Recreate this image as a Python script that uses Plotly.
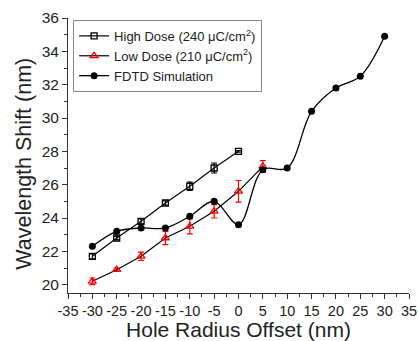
import plotly.graph_objects as go

x_dose = [-30, -25, -20, -15, -10, -5, 0]
high_dose = [21.7, 22.8, 23.8, 24.9, 25.9, 27.0, 28.0]
high_err = [0.15, 0.1, 0.15, 0.12, 0.25, 0.3, 0.05]

x_low = [-30, -25, -20, -15, -10, -5, 0, 5]
low_dose = [20.2, 20.9, 21.7, 22.8, 23.5, 24.4, 25.6, 27.1]
low_err = [0.2, 0.08, 0.25, 0.4, 0.45, 0.4, 0.65, 0.35]

x_fdtd = [-30, -25, -20, -15, -10, -5, 0, 5, 10, 15, 20, 25, 30]
fdtd = [22.3, 23.2, 23.4, 23.4, 24.1, 25.0, 23.6, 26.9, 27.0, 30.4, 31.8, 32.5, 34.9]

x_ticks = list(range(-35, 36, 5))
y_ticks = list(range(20, 37, 2))

fig = go.Figure()
fig.add_trace(go.Scatter(
    x=x_dose, y=high_dose, mode="lines+markers",
    name="High Dose (240 \u03bcC/cm<sup>2</sup>)",
    line=dict(color="black", width=1.2),
    marker=dict(symbol="square-open", size=6, color="black", line=dict(width=1.3)),
    error_y=dict(type="data", array=high_err, color="black", thickness=1.2, width=3),
))
fig.add_trace(go.Scatter(
    x=x_low, y=low_dose, mode="lines+markers",
    name="Low Dose (210 \u03bcC/cm<sup>2</sup>)",
    line=dict(color="black", width=1.2),
    marker=dict(symbol="triangle-up-open", size=7, color="red", line=dict(width=1.3)),
    error_y=dict(type="data", array=low_err, color="red", thickness=1.2, width=3),
))
fig.add_trace(go.Scatter(
    x=x_fdtd, y=fdtd, mode="lines+markers",
    name="FDTD Simulation",
    line=dict(color="black", width=1.3, shape="spline", smoothing=1),
    marker=dict(symbol="circle", size=7, color="black"),
))

fig.update_layout(
    width=419, height=341,
    margin=dict(l=68, r=10, t=18, b=48, autoexpand=False),
    paper_bgcolor="white", plot_bgcolor="white",
    font=dict(family="Liberation Sans, Arial, sans-serif", color="#222", size=15),
    showlegend=True,
    legend=dict(x=0.015, y=0.993, xanchor="left", yanchor="top",
                bordercolor="#888", borderwidth=1, bgcolor="white",
                font=dict(size=13), tracegroupgap=0, itemwidth=30),
    xaxis=dict(range=[-35, 35], tickvals=x_ticks, ticktext=[str(v) for v in x_ticks],
               tickangle=0, automargin=False, ticklabeloverflow="allow",
               ticks="outside", ticklen=5, tickwidth=1, tickcolor="#333",
               showline=True, linecolor="#333", linewidth=1, showgrid=False, zeroline=False,
               minor=dict(ticks="outside", dtick=2.5, ticklen=3, tickcolor="#333", showgrid=False),
               title=dict(text="Hole Radius Offset (nm)", font=dict(size=21), standoff=12),
               tickfont=dict(size=14.5)),
    yaxis=dict(range=[19.5, 36], tickvals=y_ticks, ticktext=[str(v) for v in y_ticks],
               automargin=False,
               ticks="outside", ticklen=5, tickwidth=1, tickcolor="#333",
               showline=True, linecolor="#333", linewidth=1, showgrid=False, zeroline=False,
               minor=dict(ticks="outside", dtick=1, ticklen=3, tickcolor="#333", showgrid=False),
               tickfont=dict(size=15.5)),
    annotations=[dict(text="Wavelength Shift (nm)", textangle=-90, showarrow=False,
                      xref="paper", yref="paper", x=-0.13, y=0.469,
                      xanchor="center", yanchor="middle", font=dict(size=21.5))],
)

fig.write_html("out.html", config={"displayModeBar": False},
               post_script="document.body.style.margin='0';document.body.style.overflow='hidden';")
